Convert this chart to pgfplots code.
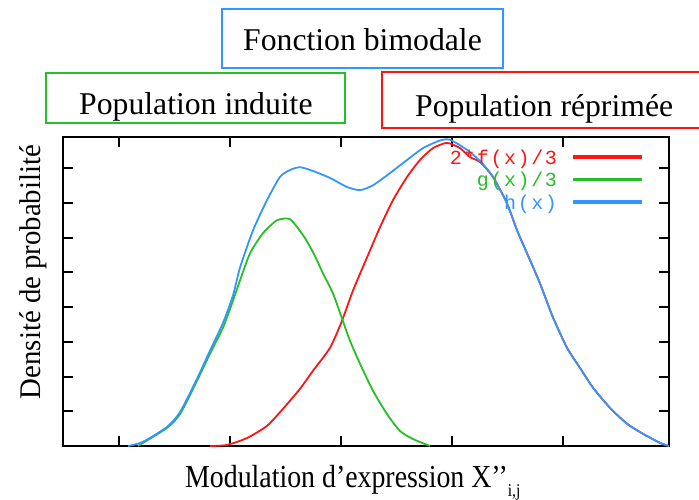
\documentclass[border=0pt]{standalone}
\usepackage{fontspec}
\setmainfont{Liberation Serif}
\newfontfamily\gp[LetterSpace=8]{Liberation Mono}
\usepackage{pgfplots}
\pgfplotsset{compat=1.18}

\definecolor{gpred}{RGB}{255,20,20}
\definecolor{gpgreen}{RGB}{40,190,40}
\definecolor{gpblue}{RGB}{50,150,255}

\begin{document}
\begin{tikzpicture}[x=1pt,y=1pt]
\useasboundingbox (0,0) rectangle (699,500);

\begin{axis}[
  at={(63pt,54pt)}, anchor=south west,
  scale only axis, width=606pt, height=309pt,
  xmin=0.495, xmax=5.955, ymin=0, ymax=8.9,
  xtick={1,...,5}, ytick={1,...,8},
  xticklabels={}, yticklabels={},
  axis line style={line width=2pt},
  major tick length=10pt,
  tick style={line width=2pt, black},
  tick align=inside,
  clip=false,
  every axis plot/.append style={line width=1.8pt, mark=none, smooth, tension=0.4},
  legend cell align=right,
  legend plot pos=right,
  legend image code/.code={\fill[#1] (0pt,1.6pt) rectangle (67pt,3.4pt);},
  legend style={draw=none, fill=none, inner sep=0pt, column sep=16pt,
    row sep=0pt, font=\fontsize{20}{20}\gp,
    nodes={inner sep=0pt, text height=16pt, text depth=6.5pt},
    at={(0.9554,0.9644)}, anchor=north east},
]

% 2*f(x)/3
\addplot[gpred] coordinates {
  (1.820,0) (1.973,0.03) (2.153,0.23) (2.333,0.58) (2.477,1.07)
  (2.631,1.65) (2.748,2.17) (2.901,2.83) (3.009,3.61) (3.108,4.48)
  (3.234,5.43) (3.351,6.30) (3.468,7.08) (3.595,7.75) (3.712,8.24)
  (3.829,8.58) (3.955,8.73) (4.072,8.58) (4.162,8.32) (4.252,8.18)
  (4.369,7.75) (4.495,6.99) (4.586,6.21) (4.676,5.55) (4.793,4.68)
  (4.910,3.70) (5.036,2.83) (5.153,2.25) (5.270,1.68) (5.423,1.10)
  (5.577,0.64) (5.721,0.35) (5.874,0.09) (5.955,0)
};
\addlegendentry{\textcolor{gpred}{2*f(x)/3}}

% g(x)/3
\addplot[gpgreen] coordinates {
  (1.171,0) (1.216,0.09) (1.432,0.52) (1.550,0.92) (1.703,1.88)
  (1.820,2.66) (1.937,3.41) (2.027,4.19) (2.090,4.77) (2.180,5.55)
  (2.297,6.13) (2.423,6.50) (2.541,6.53) (2.658,6.07) (2.748,5.58)
  (2.838,4.97) (2.928,4.39) (3.009,3.67) (3.081,3.03) (3.171,2.37)
  (3.288,1.59) (3.414,0.92) (3.532,0.43) (3.649,0.20) (3.802,0)
};
\addlegendentry{\textcolor{gpgreen}{g(x)/3}}

% h(x)
\addplot[gpblue] coordinates {
  (1.081,0) (1.216,0.12) (1.432,0.55) (1.550,0.98) (1.703,1.94)
  (1.820,2.75) (1.937,3.55) (2.027,4.34) (2.090,5.14) (2.207,6.21)
  (2.333,7.08) (2.450,7.75) (2.541,7.95) (2.631,8.03) (2.748,7.92)
  (2.901,7.72) (3.054,7.46) (3.171,7.37) (3.288,7.51) (3.441,7.86)
  (3.595,8.24) (3.739,8.58) (3.892,8.80) (3.982,8.82) (4.135,8.53)
  (4.252,8.21) (4.369,7.75) (4.495,6.99) (4.586,6.21) (4.676,5.55)
  (4.793,4.68) (4.910,3.70) (5.036,2.83) (5.153,2.25) (5.270,1.68)
  (5.423,1.10) (5.577,0.64) (5.721,0.35) (5.874,0.09) (5.955,0)
};
\addlegendentry{\textcolor{gpblue}{h(x)}}
\end{axis}

% boxes above the plot
\draw[gpblue, line width=1.8pt] (222,432) rectangle (503,491);
\draw[gpgreen, line width=1.8pt] (46,377) rectangle (345,427);
\draw[gpred, line width=1.8pt] (382,372) rectangle (712,428);
\node[anchor=base west, inner sep=0pt, font=\fontsize{31.7}{32}\selectfont]
  at (243,449.3) {Fonction bimodale};
\node[anchor=base west, inner sep=0pt, font=\fontsize{31.7}{32}\selectfont]
  at (79,385) {Population induite};
\node[anchor=base west, inner sep=0pt, font=\fontsize{31.7}{32}\selectfont]
  at (415,383) {Population réprimée};

% axis labels
\node[anchor=base west, inner sep=0pt, font=\fontsize{32}{32}\selectfont]
  at (185,12) {\scalebox{0.87}[1]{Modulation d’expression X’’\raisebox{-9pt}{\fontsize{18}{18}\selectfont i,j}}};
\node[anchor=base, rotate=90, inner sep=0pt, font=\fontsize{30}{30}\selectfont]
  at (40,228) {\scalebox{0.96}[1]{Densité de probabilité}};
\end{tikzpicture}
\end{document}
